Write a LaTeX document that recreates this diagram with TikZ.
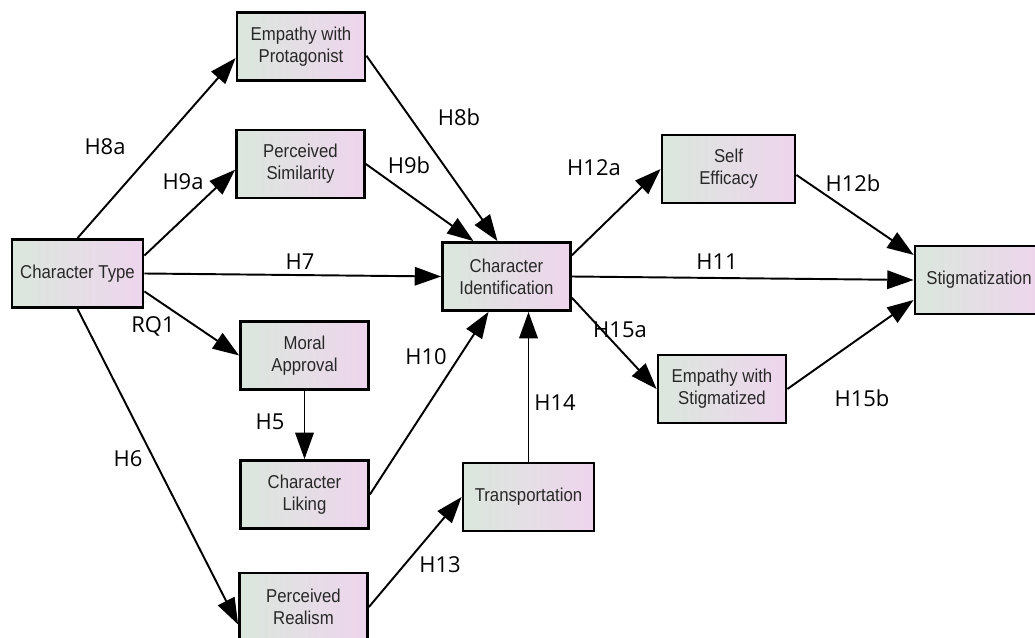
\documentclass[tikz,border=0pt]{standalone}
\usepackage{fontspec}
\setmainfont{Liberation Sans}
\newfontfamily\boxfont[FakeStretch=0.9]{Liberation Sans}
\newfontfamily\labelfont{Open Sans}
\usetikzlibrary{arrows.meta}

\definecolor{boxleft}{RGB}{219,231,221}
\definecolor{boxright}{RGB}{238,213,237}
\definecolor{boxtext}{RGB}{40,40,40}

\tikzset{
    construct/.style = {draw = black, line width = 1.6pt,
                        left color = boxleft, right color = boxright,
                        minimum width = 2.56cm, minimum height = 1.36cm,
                        align = center, text = boxtext,
                        font = \boxfont\fontsize{10.6}{12.5}\selectfont},
    link/.style      = {draw, line width = 1.1pt, -{Triangle[length=15pt, width=10.5pt]}},
    hyp/.style       = {font = \labelfont\fontsize{12.5}{14}\selectfont},
}

\begin{document}
\begin{tikzpicture}[x=0.02cm, y=-0.02cm]
    \useasboundingbox (0, 0) rectangle (1035, 638);

    % The constructs
    \node[construct, minimum width=2.62cm] (ct) at ( 77.5, 273.5) {Character Type};
    \node[construct] (ep) at (301.0,  46.5) {Empathy with\\Protagonist};
    \node[construct] (ps) at (300.5, 164.0) {Perceived\\Similarity};
    \node[construct] (ma) at (304.5, 355.5) {Moral\\Approval};
    \node[construct] (cl) at (304.5, 494.5) {Character\\Liking};
    \node[construct] (pr) at (303.5, 607.0) {Perceived\\Realism};
    \node[construct] (ci) at (506.5, 276.5) {Character\\Identification};
    \node[construct, minimum width=2.62cm] (tr) at (528.5, 497.0) {Transportation};
    \node[construct, minimum width=2.66cm] (se) at (728.5, 169.0) {Self\\Efficacy};
    \node[construct] (es) at (722.0, 389.0) {Empathy with\\Stigmatized};
    \node[construct] (st) at (979.0, 280.0) {Stigmatization};

    % The paths
    \draw[link] (ct.north) -- (ep.190);
    \draw[link] (ct.15)    -- (ps.185);
    \draw[link] (ct.east)  -- (ci.west);
    \draw[link] (ct.-15)   -- (ma.west);
    \draw[link] (ct.south) -- (pr.195);
    \draw[link] (ep.-8)    -- ([xshift=-0.18cm]ci.north);
    \draw[link] (ps.east)  -- ([xshift=-0.66cm]ci.north);
    \draw[link] (ma.south) -- (cl.north);
    \draw[link] (cl.east)  -- ([xshift=-0.36cm]ci.south);
    \draw[link] (tr.north) -- (tr.north |- ci.south);
    \draw[link] (pr.east)  -- (tr.west);
    \draw[link] (ci.18)    -- (se.west);
    \draw[link] (ci.east)  -- (st.west);
    \draw[link] (ci.-18)   -- (es.west);
    \draw[link] (se.-5)    -- (st.159);
    \draw[link] (es.east)  -- (st.197);

    % The hypotheses
    \node[hyp] (lh8a)  at (105, 147) {H8a};
    \node[hyp] (lh9a)  at (183, 182) {H9a};
    \node[hyp] (lh7)   at (300, 262) {H7};
    \node[hyp] (lrq1)  at (153, 326) {RQ1};
    \node[hyp] (lh6)   at (128, 459) {H6};
    \node[hyp] (lh8b)  at (459, 117) {H8b};
    \node[hyp] (lh9b)  at (409, 165) {H9b};
    \node[hyp] (lh5)   at (270, 422) {H5};
    \node[hyp] (lh10)  at (426, 357) {H10};
    \node[hyp] (lh14)  at (555, 403) {H14};
    \node[hyp] (lh13)  at (440, 565) {H13};
    \node[hyp] (lh12a) at (594, 168) {H12a};
    \node[hyp] (lh11)  at (717, 262) {H11};
    \node[hyp] (lh15a) at (620, 330) {H15a};
    \node[hyp] (lh12b) at (853, 183) {H12b};
    \node[hyp] (lh15b) at (862, 398) {H15b};
\end{tikzpicture}
\end{document}
